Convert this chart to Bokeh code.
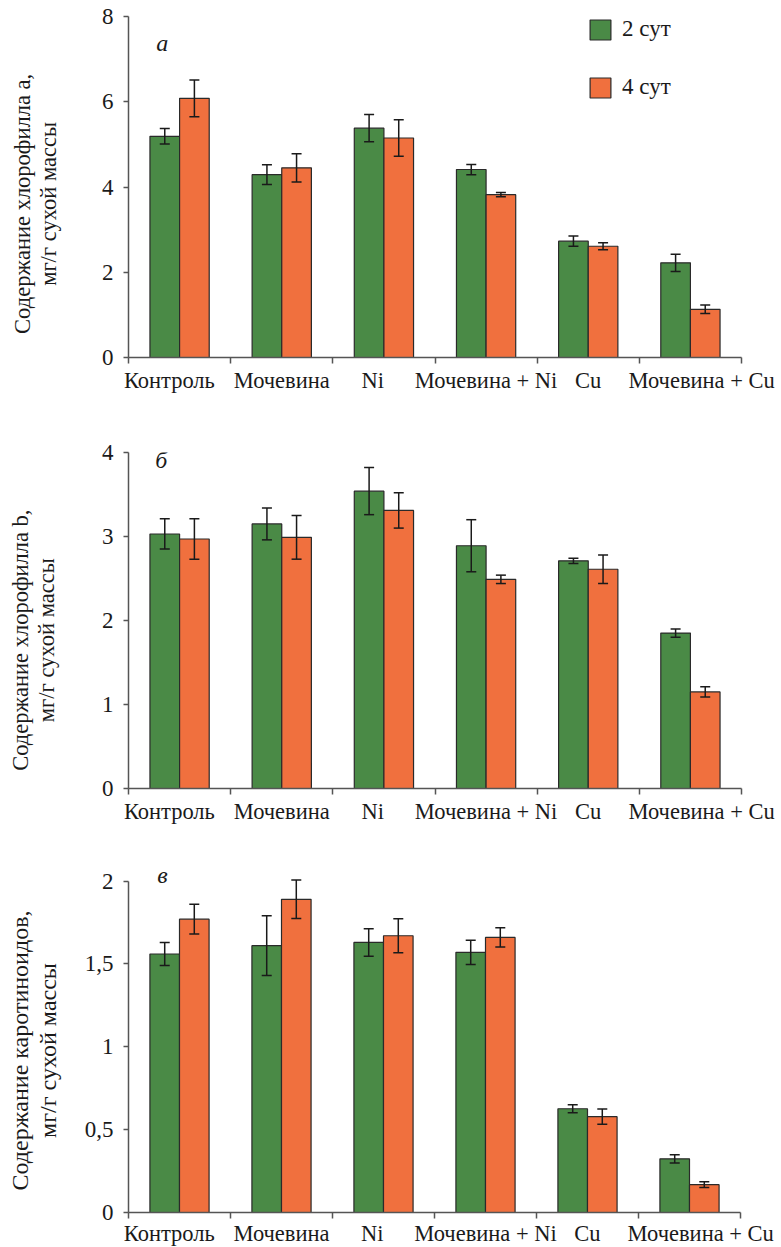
import numpy as np
from bokeh.plotting import figure
from bokeh.models import (ColumnDataSource, Whisker, TeeHead, Range1d, FixedTicker,
                          Legend, LegendItem, Label)
from bokeh.layouts import column
from bokeh.embed import file_html
from bokeh.resources import INLINE

# ---------------- data ----------------
categories = ["Контроль", "Мочевина", "Ni", "Мочевина + Ni", "Cu", "Мочевина + Cu"]
series_names = ["2 сут", "4 сут"]

chl_a_2d = [5.19, 4.29, 5.38, 4.41, 2.73, 2.22]
chl_a_2d_err = [0.18, 0.23, 0.32, 0.12, 0.12, 0.20]
chl_a_4d = [6.08, 4.45, 5.15, 3.82, 2.61, 1.13]
chl_a_4d_err = [0.43, 0.33, 0.43, 0.05, 0.08, 0.10]

chl_b_2d = [3.03, 3.15, 3.54, 2.89, 2.71, 1.85]
chl_b_2d_err = [0.18, 0.19, 0.28, 0.31, 0.03, 0.05]
chl_b_4d = [2.97, 2.99, 3.31, 2.49, 2.61, 1.15]
chl_b_4d_err = [0.24, 0.26, 0.21, 0.05, 0.17, 0.06]

car_2d = [1.56, 1.61, 1.63, 1.57, 0.626, 0.324]
car_2d_err = [0.07, 0.18, 0.083, 0.073, 0.024, 0.025]
car_4d = [1.77, 1.89, 1.67, 1.66, 0.578, 0.168]
car_4d_err = [0.09, 0.116, 0.103, 0.058, 0.046, 0.017]

y_ticks_a = [0, 2, 4, 6, 8]
y_labels_a = ["0", "2", "4", "6", "8"]
y_ticks_b = [0, 1, 2, 3, 4]
y_labels_b = ["0", "1", "2", "3", "4"]
y_ticks_c = [0, 0.5, 1, 1.5, 2]
y_labels_c = ["0", "0,5", "1", "1,5", "2"]

ylabel_a = ["Содержание хлорофилла a,", "мг/г сухой массы"]
ylabel_b = ["Содержание хлорофилла b,", "мг/г сухой массы"]
ylabel_c = ["Содержание каротиноидов,", "мг/г сухой массы"]

# ---------------- style ----------------
FONT = "Liberation Serif"
GREEN = "#4a8a46"
ORANGE = "#f0703e"
EDGE = "#2a2a2a"
AXIS = "#555555"
TXT = "#1a1a1a"
BAR_W = 0.29
NBSP = "\u00a0"
# small horizontal nudges of the category labels (fraction of a group), as in the original
label_nudge = [-0.10, 0.0, -0.11, 0.0, 0.0, 0.11]


def panel(v2, e2, v4, e4, yticks, ylabels, ylabel, letter, letter_xy,
          fw, fh, bl, br, bt, bb, label_standoff, label_pad, label_size="22.5px",
          y_end=None, x_standoff=4, legend=False):
    y_end = yticks[-1] if y_end is None else y_end
    p = figure(frame_width=fw, frame_height=fh, output_backend="svg",
               toolbar_location=None, min_border_left=bl, min_border_right=br,
               min_border_top=bt, min_border_bottom=bb,
               x_range=Range1d(0, len(categories)),
               y_range=Range1d(yticks[0], y_end))
    p.outline_line_color = None
    p.grid.visible = False

    centers = np.arange(len(categories)) + 0.5
    src2 = ColumnDataSource(dict(x=centers - BAR_W / 2, top=v2,
                                 upper=np.array(v2) + np.array(e2),
                                 lower=np.array(v2) - np.array(e2)))
    src4 = ColumnDataSource(dict(x=centers + BAR_W / 2, top=v4,
                                 upper=np.array(v4) + np.array(e4),
                                 lower=np.array(v4) - np.array(e4)))
    r2 = p.vbar(x="x", top="top", bottom=0, width=BAR_W, source=src2,
                fill_color=GREEN, line_color=EDGE, line_width=1.2)
    r4 = p.vbar(x="x", top="top", bottom=0, width=BAR_W, source=src4,
                fill_color=ORANGE, line_color=EDGE, line_width=1.2)
    for s in (src2, src4):
        w = Whisker(source=s, base="x", upper="upper", lower="lower",
                    dimension="height", line_color=TXT, line_width=1.5,
                    level="overlay",
                    upper_head=TeeHead(size=10, line_color=TXT, line_width=1.5),
                    lower_head=TeeHead(size=10, line_color=TXT, line_width=1.5))
        p.add_layout(w)

    # x axis: labels at group centres, tick marks at group boundaries
    label_pos = [float(c + d) for c, d in zip(centers, label_nudge)]
    xa = p.xaxis[0]
    xa.ticker = FixedTicker(ticks=label_pos,
                            minor_ticks=list(range(len(categories) + 1)))
    xa.major_label_overrides = {pos: n for pos, n in zip(label_pos, categories)}
    xa.major_tick_out = 0
    xa.major_tick_in = 0
    xa.minor_tick_out = 6
    xa.minor_tick_in = 0
    xa.minor_tick_line_color = AXIS
    xa.minor_tick_line_width = 1.5
    xa.major_label_standoff = x_standoff
    xa.major_label_text_font = FONT
    xa.major_label_text_font_size = "22.5px"
    xa.major_label_text_color = TXT
    xa.axis_line_color = AXIS
    xa.axis_line_width = 1.5

    ya = p.yaxis[0]
    ya.ticker = FixedTicker(ticks=yticks, minor_ticks=[])
    ya.bounds = (yticks[0], yticks[-1])
    ya.major_label_overrides = {float(t): l for t, l in zip(yticks, ylabels)}
    ya.major_tick_out = 5
    ya.major_tick_in = 0
    ya.major_tick_line_color = AXIS
    ya.major_tick_line_width = 1.5
    ya.major_label_standoff = 10
    ya.major_label_text_font = FONT
    ya.major_label_text_font_size = "23px"
    ya.major_label_text_color = TXT
    ya.axis_line_color = AXIS
    ya.axis_line_width = 1.5
    ya.axis_label = "\n".join(line + NBSP * label_pad for line in ylabel)
    ya.axis_label_text_font = FONT
    ya.axis_label_text_font_style = "normal"
    ya.axis_label_text_font_size = label_size
    ya.axis_label_text_line_height = 1.05
    ya.axis_label_text_color = TXT
    ya.axis_label_standoff = label_standoff

    p.add_layout(Label(x=letter_xy[0], y=letter_xy[1], text=letter,
                       text_font=FONT, text_font_style="italic",
                       text_font_size="24px", text_align="center",
                       text_baseline="alphabetic", text_color=TXT))

    if legend:
        lg = Legend(items=[LegendItem(label=series_names[0], renderers=[r2]),
                           LegendItem(label=series_names[1], renderers=[r4])],
                    location=(459, 257), orientation="vertical",
                    glyph_width=26, glyph_height=25, label_standoff=9,
                    spacing=32, padding=0, margin=0,
                    border_line_color=None, background_fill_alpha=0,
                    label_text_font=FONT, label_text_font_size="23px",
                    label_text_color=TXT)
        p.add_layout(lg)
    return p


pa = panel(chl_a_2d, chl_a_2d_err, chl_a_4d, chl_a_4d_err, y_ticks_a, y_labels_a,
           ylabel_a, "а", (0.33, 7.37), fw=613, fh=341, bl=126, br=40, bt=16, bb=45,
           label_standoff=38, label_pad=6, legend=True)
pb = panel(chl_b_2d, chl_b_2d_err, chl_b_4d, chl_b_4d_err, y_ticks_b, y_labels_b,
           ylabel_b, "б", (0.32, 3.905), fw=613, fh=336, bl=128, br=38, bt=50, bb=38,
           label_standoff=40, label_pad=7)
pc = panel(car_2d, car_2d_err, car_4d, car_4d_err, y_ticks_c, y_labels_c,
           ylabel_c, "в", (0.333, 2.034), fw=612, fh=348, bl=126, br=41, bt=38, bb=33,
           label_standoff=21, label_pad=4, label_size="24px", y_end=2.1, x_standoff=2)

layout = column(pa, pb, pc, spacing=0)
open("out.html", "w").write(file_html(layout, INLINE))
